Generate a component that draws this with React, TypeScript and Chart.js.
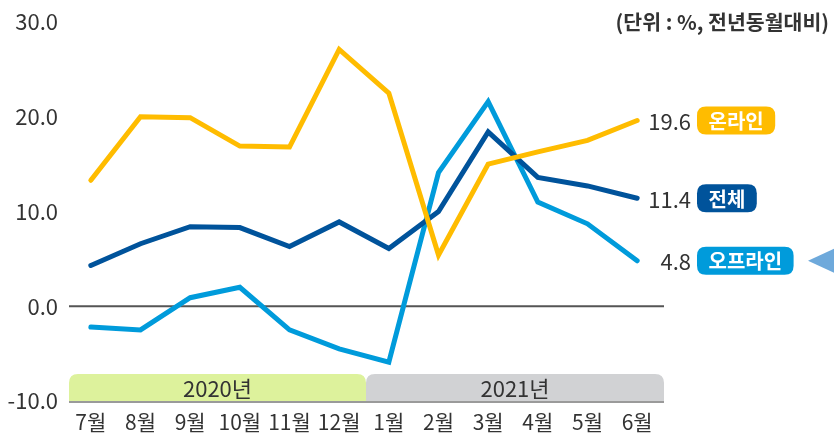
import React, { useEffect, useRef } from "react";
import { Chart, registerables } from "chart.js";

Chart.register(...registerables);

const months = ["7월", "8월", "9월", "10월", "11월", "12월", "1월", "2월", "3월", "4월", "5월", "6월"];
const online = [13.3, 20.0, 19.9, 16.9, 16.8, 27.1, 22.5, 5.4, 15.0, 16.3, 17.5, 19.6];
const total = [4.3, 6.6, 8.4, 8.3, 6.3, 8.9, 6.1, 10.0, 18.4, 13.6, 12.7, 11.4];
const offline = [-2.2, -2.5, 0.9, 2.0, -2.5, -4.5, -5.9, 14.1, 21.6, 11.0, 8.7, 4.8];
const seriesNames = ["온라인", "전체", "오프라인"];
const seriesColors = ["#FFBC00", "#00539B", "#009BDB"];
const years = ["2020년", "2021년"];
const yearSpans = [[0, 5], [6, 11]];
const yearColors = ["#DDF29C", "#D1D2D4"];
const unitLabel = "(단위 : %, 전년동월대비)";
const FONT = "'Noto Sans CJK KR', 'Noto Sans', sans-serif";

function roundTopRect(ctx: CanvasRenderingContext2D, x: number, y: number, w: number, h: number, r: number) {
  ctx.beginPath();
  ctx.moveTo(x, y + h);
  ctx.lineTo(x, y + r);
  ctx.quadraticCurveTo(x, y, x + r, y);
  ctx.lineTo(x + w - r, y);
  ctx.quadraticCurveTo(x + w, y, x + w, y + r);
  ctx.lineTo(x + w, y + h);
  ctx.closePath();
}

function roundRect(ctx: CanvasRenderingContext2D, x: number, y: number, w: number, h: number, r: number) {
  ctx.beginPath();
  ctx.moveTo(x + r, y);
  ctx.lineTo(x + w - r, y);
  ctx.quadraticCurveTo(x + w, y, x + w, y + r);
  ctx.lineTo(x + w, y + h - r);
  ctx.quadraticCurveTo(x + w, y + h, x + w - r, y + h);
  ctx.lineTo(x + r, y + h);
  ctx.quadraticCurveTo(x, y + h, x, y + h - r);
  ctx.lineTo(x, y + r);
  ctx.quadraticCurveTo(x, y, x + r, y);
  ctx.closePath();
}

const decorPlugin = {
  id: "decor",
  beforeDatasetsDraw(chart: any) {
    const { ctx, chartArea, scales } = chart;
    const xs = scales.x;
    const ys = scales.y;
    const bottom = ys.getPixelForValue(-10);
    const top = bottom - 27;
    ctx.save();
    yearSpans.forEach((span, i) => {
      const left = i === 0 ? chartArea.left + 3 : (xs.getPixelForValue(span[0] - 1) + xs.getPixelForValue(span[0])) / 2 + 2;
      const right = i === yearSpans.length - 1 ? chartArea.right + 2 : (xs.getPixelForValue(span[1]) + xs.getPixelForValue(span[1] + 1)) / 2 + 2;
      ctx.fillStyle = yearColors[i];
      roundTopRect(ctx, left, top, right - left, bottom - top, 9);
      ctx.fill();
      ctx.fillStyle = "#333";
      ctx.font = `22px ${FONT}`;
      ctx.textAlign = "center";
      ctx.textBaseline = "middle";
      ctx.fillText(years[i], (left + right) / 2, (top + bottom) / 2 + 1);
    });
    ctx.fillStyle = "#9A9A9A";
    ctx.fillRect(chartArea.left + 3, bottom, chartArea.right - chartArea.left - 1, 2);
    const z = ys.getPixelForValue(0);
    ctx.fillStyle = "#555";
    ctx.fillRect(chartArea.left + 3, z - 1, chartArea.right - chartArea.left - 1, 2);
    ctx.restore();
  },
  afterDraw(chart: any) {
    const { ctx, scales } = chart;
    const ys = scales.y;
    const data = [online, total, offline];
    const lastIdx = months.length - 1;
    ctx.save();
    data.forEach((arr, i) => {
      const v = arr[lastIdx];
      const y = ys.getPixelForValue(v);
      ctx.font = `22px ${FONT}`;
      ctx.fillStyle = "#333";
      ctx.textAlign = "right";
      ctx.textBaseline = "middle";
      ctx.fillText(v.toFixed(1), 691, y + 1);
      ctx.font = `bold 20px ${FONT}`;
      const tw = ctx.measureText(seriesNames[i]).width;
      const bx = 697;
      const bw = tw + 23;
      roundRect(ctx, bx, y - 14, bw, 28, 9);
      ctx.fillStyle = seriesColors[i];
      ctx.fill();
      ctx.fillStyle = "#fff";
      ctx.textAlign = "center";
      ctx.fillText(seriesNames[i], bx + bw / 2, y + 1);
      if (i === 2) {
        ctx.fillStyle = "#6EA9DB";
        ctx.beginPath();
        ctx.moveTo(808, y);
        ctx.lineTo(836, y - 13);
        ctx.lineTo(836, y + 13);
        ctx.closePath();
        ctx.fill();
      }
    });
    ctx.font = `bold 20.5px ${FONT}`;
    ctx.fillStyle = "#333";
    ctx.textAlign = "right";
    ctx.textBaseline = "middle";
    ctx.fillText(unitLabel, 829, 22);
    ctx.restore();
  },
};

export default function App() {
  const ref = useRef<HTMLCanvasElement | null>(null);
  useEffect(() => {
    if (!ref.current) return;
    const chart = new Chart(ref.current, {
      type: "line",
      data: {
        labels: months,
        datasets: [
          { label: seriesNames[0], data: online, borderColor: seriesColors[0] },
          { label: seriesNames[1], data: total, borderColor: seriesColors[1] },
          { label: seriesNames[2], data: offline, borderColor: seriesColors[2] },
        ].map((d) => ({
          ...d,
          borderWidth: 5,
          pointRadius: 0,
          tension: 0,
          fill: false,
          borderCapStyle: "round" as const,
          borderJoinStyle: "miter" as const,
        })),
      },
      options: {
        animation: false,
        responsive: false,
        maintainAspectRatio: false,
        layout: { padding: { top: 22, right: 172, bottom: 0, left: 0 } },
        plugins: { legend: { display: false }, tooltip: { enabled: false } },
        scales: {
          x: {
            type: "category",
            offset: true,
            grid: { display: false, drawTicks: false },
            border: { display: false },
            ticks: {
              color: "#333",
              font: { family: FONT, size: 21 },
              padding: 8,
              maxRotation: 0,
              autoSkip: false,
            },
            afterFit: (s: any) => {
              s.height = 35;
            },
          },
          y: {
            min: -10,
            max: 30,
            grid: { display: false, drawTicks: false },
            border: { display: false },
            ticks: {
              stepSize: 10,
              color: "#333",
              font: { family: FONT, size: 22 },
              padding: 8,
              callback: (v: any) => Number(v).toFixed(1),
            },
            afterFit: (s: any) => {
              s.width = 66;
            },
          },
        },
      },
      plugins: [decorPlugin],
    });
    return () => chart.destroy();
  }, []);
  return (
    <div style={{ position: "fixed", left: 0, top: 0, width: 834, height: 436, background: "#fff" }}>
      <canvas ref={ref} width={834} height={436} style={{ width: 834, height: 436, display: "block" }} />
    </div>
  );
}
